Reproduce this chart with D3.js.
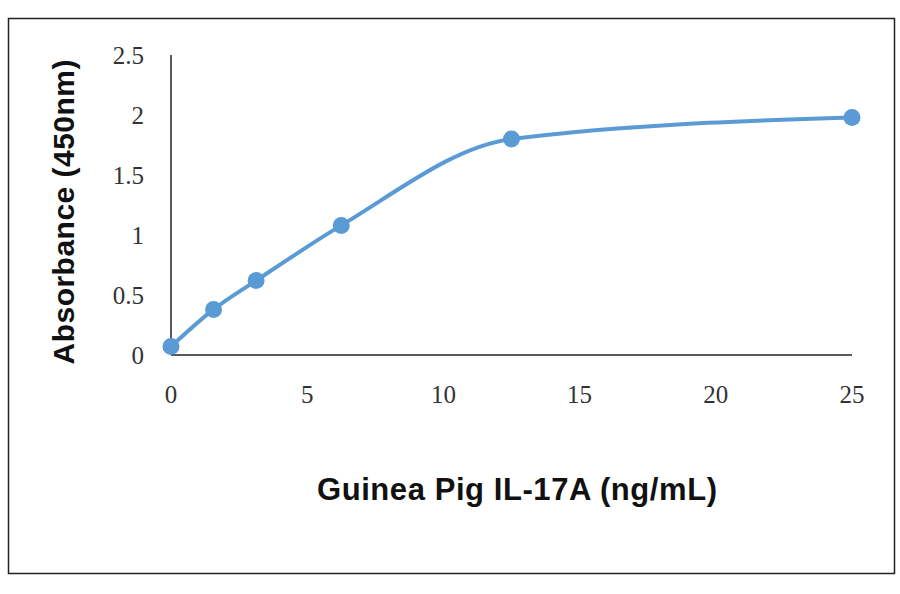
<!DOCTYPE html>
<html><head><meta charset="utf-8">
<script src="https://cdn.jsdelivr.net/npm/d3@7"></script>
<style>body{margin:0;background:#fff}</style>
</head><body>
<div id="chart"></div>
<script>
const concentrations = [0, 1.5625, 3.125, 6.25, 12.5, 25];
const absorbance = [0.07, 0.38, 0.62, 1.08, 1.80, 1.98];
const xTicks = [0, 5, 10, 15, 20, 25];
const yTicks = [0, 0.5, 1, 1.5, 2, 2.5];

const W = 900, H = 594;
const margin = { top: 55, right: 48, bottom: 239, left: 171 };
const width = W - margin.left - margin.right;
const height = H - margin.top - margin.bottom;

const svg = d3.select("#chart").append("svg")
    .attr("width", W).attr("height", H);

svg.append("rect").attr("x", 8.5).attr("y", 18.5).attr("width", 886).attr("height", 555)
    .attr("fill", "none").attr("stroke", "#222").attr("stroke-width", 1.5);

const g = svg.append("g").attr("transform", `translate(${margin.left},${margin.top})`);

const x = d3.scaleLinear().domain([0, 25]).range([0, width]);
const y = d3.scaleLinear().domain([0, 2.5]).range([height, 0]);

// axes
g.append("line").attr("x1", 0).attr("x2", width).attr("y1", height).attr("y2", height)
    .attr("stroke", "#222").attr("stroke-width", 1.5);
g.append("line").attr("x1", 0).attr("x2", 0).attr("y1", 0).attr("y2", height)
    .attr("stroke", "#222").attr("stroke-width", 1.5);

g.selectAll(".xt").data(xTicks).enter().append("text")
    .attr("x", d => x(d)).attr("y", height + 48)
    .attr("text-anchor", "middle")
    .style("font-family", "Liberation Serif, serif").style("font-size", "25px").attr("fill", "#333")
    .text(d => d);

g.selectAll(".yt").data(yTicks).enter().append("text")
    .attr("x", -27).attr("y", d => y(d) + 9)
    .attr("text-anchor", "end")
    .style("font-family", "Liberation Serif, serif").style("font-size", "25px").attr("fill", "#333")
    .text(d => d);

const pts = concentrations.map((c, i) => [c, absorbance[i]]);
const line = d3.line().x(d => x(d[0])).y(d => y(d[1])).curve(d3.curveMonotoneX);

g.append("path").datum(pts).attr("d", line)
    .attr("fill", "none").attr("stroke", "#5b9bd5").attr("stroke-width", 4);

g.selectAll("circle").data(pts).enter().append("circle")
    .attr("cx", d => x(d[0])).attr("cy", d => y(d[1])).attr("r", 8.5)
    .attr("fill", "#5b9bd5");

svg.append("text").attr("x", 517).attr("y", 500).attr("text-anchor", "middle")
    .style("font-family", "Liberation Sans, Arial, sans-serif").style("font-size", "31px")
    .style("font-weight", "bold").attr("fill", "#111")
    .attr("textLength", 400)
    .text("Guinea Pig IL-17A (ng/mL)");

svg.append("text").attr("transform", "translate(74,212) rotate(-90)").attr("text-anchor", "middle")
    .style("font-family", "Liberation Sans, Arial, sans-serif").style("font-size", "30px")
    .style("font-weight", "bold").attr("fill", "#111")
    .attr("textLength", 305)
    .text("Absorbance (450nm)");
</script>
</body></html>
